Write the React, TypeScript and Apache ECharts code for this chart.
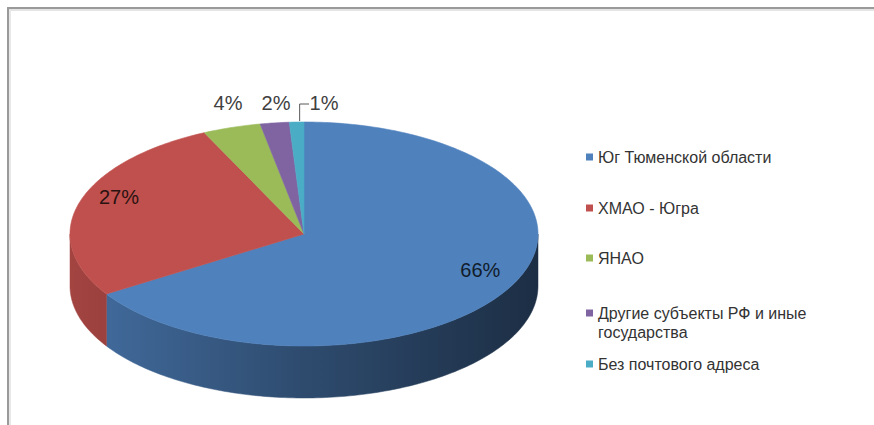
import React, { useEffect, useRef } from 'react';
import * as echarts from 'echarts';

const categories = [
  'Юг Тюменской области',
  'ХМАО - Югра',
  'ЯНАО',
  'Другие субъекты РФ и иные государства',
  'Без почтового адреса',
];
const values = [66, 27, 4, 2, 1];
const colors = ['#4F81BD', '#C0504D', '#9BBB59', '#8064A2', '#4BACC6'];

const W = 874;
const H = 425;
const CX = 304;
const CY = 234;
const RX = 234;
const RY = 112;
const DEPTH = 52;
const FONT = '"Liberation Sans", Arial, sans-serif';

const total = values.reduce((a, b) => a + b, 0);
const starts: number[] = [];
values.reduce((acc, v, i) => {
  starts[i] = acc;
  return acc + v;
}, 0);

function shade(hex: string, f: number): string {
  const n = parseInt(hex.slice(1), 16);
  const r = Math.min(255, Math.round(((n >> 16) & 255) * f));
  const g = Math.min(255, Math.round(((n >> 8) & 255) * f));
  const b = Math.min(255, Math.round((n & 255) * f));
  return 'rgb(' + r + ',' + g + ',' + b + ')';
}

function pt(t: number, dy = 0): number[] {
  return [CX + RX * Math.sin(t), CY - RY * Math.cos(t) + dy];
}
function arc(a0: number, a1: number, dy: number): number[][] {
  const n = Math.max(2, Math.ceil((a1 - a0) / (Math.PI / 180)));
  const out: number[][] = [];
  for (let i = 0; i <= n; i++) out.push(pt(a0 + ((a1 - a0) * i) / n, dy));
  return out;
}

type Lab = { x: number; y: number; inside: boolean; leader: number[][] | null };
const labels: Lab[] = (() => {
  const res: Lab[] = [];
  let prevX = -Infinity;
  values.forEach((v, i) => {
    const mid = ((starts[i] + v / 2) / total) * Math.PI * 2;
    if (v / total >= 0.1) {
      res.push({
        x: CX + RX * 0.85 * Math.sin(mid) + (Math.sin(mid) < 0 ? 6 : 2),
        y: CY - 10 - RY * 0.85 * Math.cos(mid),
        inside: true,
        leader: null,
      });
    } else {
      const natural = CX + RX * 1.05 * Math.sin(mid);
      const x = Math.max(natural, prevX + 48);
      prevX = x;
      const ly = CY - RY - 19;
      let leader: number[][] | null = null;
      if (x - natural > 10) {
        const p = pt(mid);
        leader = [
          [p[0] + 3, p[1] - 1],
          [p[0] + 3, ly + 1],
          [x - 15, ly + 1],
        ];
      }
      res.push({ x, y: ly, inside: false, leader });
    }
  });
  return res;
})();

const legendCenters = [157, 208, 258, 313, 364];

export default function App() {
  const ref = useRef<HTMLDivElement>(null);
  useEffect(() => {
    document.body.style.margin = '0';
    if (!ref.current) return;
    const chart = echarts.init(ref.current, null, { renderer: 'svg' });

    const renderItem = (params: any, api: any) => {
      const idx = params.seriesIndex;
      const start = api.value(0);
      const val = api.value(1);
      const a0 = (start / total) * Math.PI * 2;
      const a1 = ((start + val) / total) * Math.PI * 2;
      const color = colors[idx];
      const children: any[] = [];
      const s = Math.max(a0, Math.PI / 2);
      const e = Math.min(a1, (Math.PI * 3) / 2);
      if (e > s) {
        const top = arc(s, e, 0);
        const bottom = arc(s, e, DEPTH).reverse();
        const grad = new echarts.graphic.LinearGradient(
          CX - RX,
          0,
          CX + RX,
          0,
          [
            { offset: 0, color: shade(color, 0.85) },
            { offset: 0.5, color: shade(color, 0.58) },
            { offset: 1, color: shade(color, 0.36) },
          ],
          true
        );
        children.push({
          type: 'polygon',
          shape: { points: top.concat(bottom) },
          style: { fill: grad, stroke: grad, lineWidth: 0.5 },
        });
      }
      children.push({
        type: 'polygon',
        shape: { points: [[CX, CY]].concat(arc(a0, a1, 0)) },
        style: { fill: color, stroke: color, lineWidth: 0.6 },
      });
      const lab = labels[idx];
      if (lab.leader) {
        children.push({
          type: 'polyline',
          shape: { points: lab.leader },
          style: { stroke: '#595959', lineWidth: 1, fill: 'none' },
        });
      }
      children.push({
        type: 'text',
        x: lab.x,
        y: lab.y,
        style: {
          text: Math.round((val / total) * 100) + '%',
          fill: lab.inside ? shade(color, 0.22) : '#404040',
          fontSize: 20,
          fontFamily: FONT,
          align: 'center',
          verticalAlign: 'middle',
          textAlign: 'center',
          textVerticalAlign: 'middle',
        },
      });
      return { type: 'group', children };
    };

    const series = categories.map((name, i) => ({
      type: 'custom',
      name,
      coordinateSystem: 'none',
      renderItem,
      itemStyle: { color: colors[i] },
      data: [[starts[i], values[i]]],
      silent: true,
    }));

    const legend = categories.map((name, i) => {
      const twoLine = i === 3;
      return {
        data: [name],
        orient: 'vertical',
        left: 586,
        top: twoLine ? legendCenters[i] - 28.5 : legendCenters[i] - 9.5,
        padding: 0,
        icon: 'rect',
        itemWidth: 7,
        itemHeight: 7,
        selectedMode: false,
        formatter: (n: string) =>
          n === categories[3] ? '\nДругие субъекты РФ и иные\nгосударства' : n,
        textStyle: {
          fontSize: 16,
          fontFamily: FONT,
          color: '#333333',
          lineHeight: 19,
        },
      };
    });

    chart.setOption({
      animation: false,
      legend,
      series,
      graphic: [
        {
          type: 'line',
          shape: { x1: 7, y1: 8, x2: W, y2: 8 },
          style: { stroke: '#9a9a9a', lineWidth: 2 },
        },
        {
          type: 'line',
          shape: { x1: 7, y1: 10, x2: W, y2: 10 },
          style: { stroke: '#e4e4e4', lineWidth: 2 },
        },
        {
          type: 'line',
          shape: { x1: 8, y1: 8, x2: 8, y2: H },
          style: { stroke: '#9a9a9a', lineWidth: 2 },
        },
        {
          type: 'line',
          shape: { x1: 10, y1: 10, x2: 10, y2: H },
          style: { stroke: '#e8e8e8', lineWidth: 2 },
        },
      ],
    });
    return () => chart.dispose();
  }, []);
  return <div ref={ref} style={{ width: W, height: H }} />;
}
